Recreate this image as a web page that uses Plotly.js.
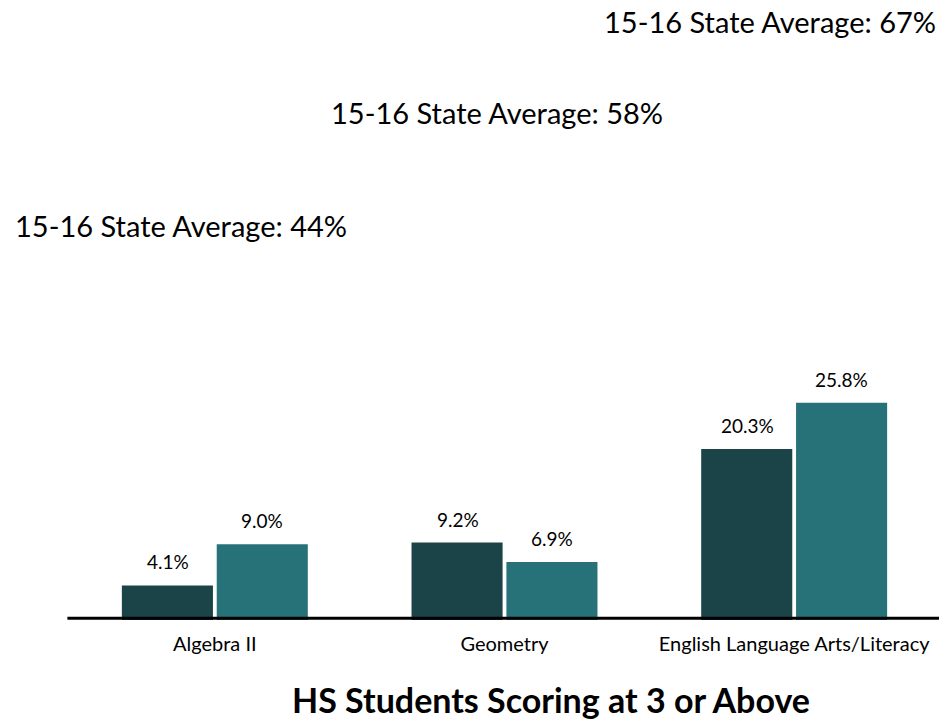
<!DOCTYPE html>
<html>
<head>
<meta charset="utf-8">
<script src="https://cdn.plot.ly/plotly-3.0.1.min.js"></script>
<style>html,body{margin:0;padding:0;background:#fff;}#chart{width:939px;height:719px;}</style>
</head>
<body>
<div id="chart"></div>
<script>
const categories = ["Algebra II", "Geometry", "English Language Arts/Literacy"];
const seriesA = [4.1, 9.2, 20.3];
const seriesB = [9.0, 6.9, 25.8];
const stateAvgLabels = ["15-16 State Average: 44%", "15-16 State Average: 58%", "15-16 State Average: 67%"];
const chartTitle = "HS Students Scoring at 3 or Above";

const FONT = "Lato, 'Open Sans', sans-serif";
const colA = "#1a4448";
const colB = "#277278";

const traces = [
  {type: "bar", x: categories, y: seriesA, marker: {color: colA}, hoverinfo: "none", showlegend: false},
  {type: "bar", x: categories, y: seriesB, marker: {color: colB}, hoverinfo: "none", showlegend: false}
];

const annotations = [];
categories.forEach((c, i) => {
  annotations.push({x: c, y: seriesA[i], xref: "x", yref: "y", text: seriesA[i].toFixed(1) + "%", showarrow: false,
    xshift: -47, yshift: 10, yanchor: "bottom", font: {family: FONT, size: 19, color: "#000"}});
  annotations.push({x: c, y: seriesB[i], xref: "x", yref: "y", text: seriesB[i].toFixed(1) + "%", showarrow: false,
    xshift: 47, yshift: 10, yanchor: "bottom", font: {family: FONT, size: 19, color: "#000"}});
});
const avgPos = [
  {x: 0.128, y: 0.637, xanchor: "center"},
  {x: 0.491, y: 0.818, xanchor: "center"},
  {x: 0.999, y: 0.965, xanchor: "right"}
];
stateAvgLabels.forEach((t, i) => {
  annotations.push({xref: "paper", yref: "paper", x: avgPos[i].x, y: avgPos[i].y, xanchor: avgPos[i].xanchor, yanchor: "middle",
    text: t, showarrow: false, font: {family: FONT, size: 29, color: "#000"}});
});
annotations.push({xref: "paper", yref: "paper", x: 0.553, y: -0.129, xanchor: "center", yanchor: "middle",
  text: "<b>" + chartTitle + "</b>", showarrow: false, font: {family: FONT, size: 34, color: "#000"}});

const layout = {
  width: 939, height: 719,
  margin: {l: 70, r: 0, t: 0, b: 99},
  paper_bgcolor: "#fff", plot_bgcolor: "#fff",
  barmode: "group", bargap: 0.345, bargroupgap: 0.04,
  xaxis: {type: "category", range: [-0.5, 2.5], showgrid: false, zeroline: false, showline: false, ticks: "",
    tickfont: {family: FONT, size: 20, color: "#000"}, ticklabelstandoff: 10},
  yaxis: {range: [0, 73.6], visible: false, showgrid: false, zeroline: false},
  shapes: [{type: "line", xref: "paper", yref: "paper", x0: -0.003, x1: 1, y0: 0.003, y1: 0.003, line: {color: "#000", width: 3}}],
  annotations: annotations
};

Plotly.newPlot("chart", traces, layout, {staticPlot: true});
</script>
</body>
</html>
